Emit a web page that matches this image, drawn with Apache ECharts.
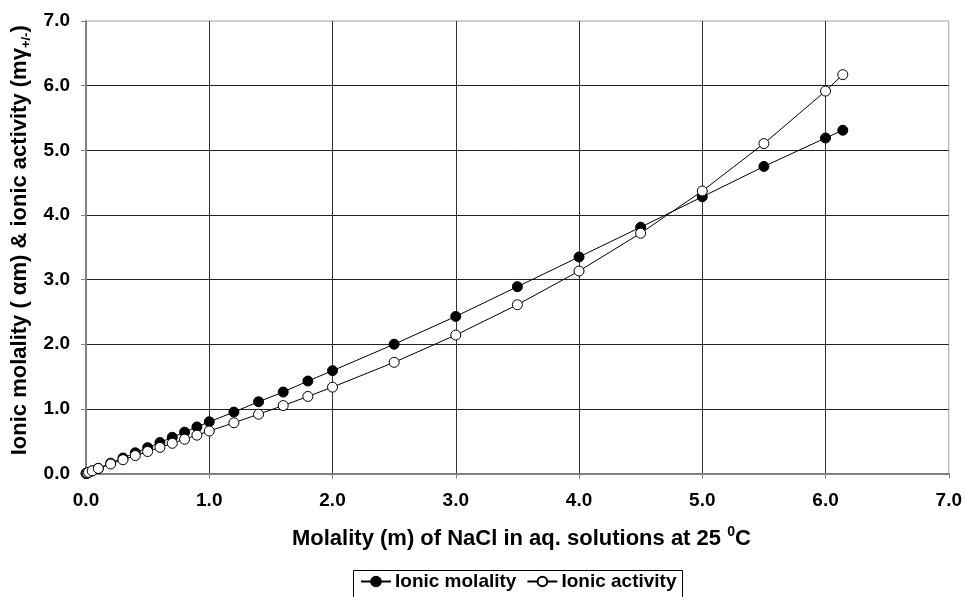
<!DOCTYPE html>
<html>
<head>
<meta charset="utf-8">
<script src="https://cdn.jsdelivr.net/npm/echarts@6/dist/echarts.min.js"></script>
<style>html,body{margin:0;padding:0;background:#fff}#c{width:965px;height:597px}</style>
</head>
<body>
<div id="c"></div>
<script>
const molality = [0.001, 0.005, 0.01, 0.02, 0.05, 0.1, 0.2, 0.3, 0.4, 0.5, 0.6, 0.7, 0.8, 0.9, 1.0, 1.2, 1.4, 1.6, 1.8, 2.0, 2.5, 3.0, 3.5, 4.0, 4.5, 5.0, 5.5, 6.0, 6.14];
const ionicMolality = [0.001, 0.004, 0.008, 0.016, 0.040, 0.080, 0.160, 0.240, 0.320, 0.400, 0.480, 0.560, 0.640, 0.720, 0.800, 0.950, 1.110, 1.260, 1.430, 1.590, 2.000, 2.430, 2.890, 3.350, 3.810, 4.280, 4.750, 5.190, 5.310];
const ionicActivity = [0.001, 0.005, 0.009, 0.018, 0.041, 0.078, 0.147, 0.213, 0.277, 0.340, 0.404, 0.467, 0.530, 0.593, 0.657, 0.785, 0.917, 1.051, 1.192, 1.336, 1.720, 2.142, 2.611, 3.132, 3.717, 4.370, 5.104, 5.916, 6.170];
const seriesNames = ['Ionic molality', 'Ionic activity'];
const xTicks = ['0.0', '1.0', '2.0', '3.0', '4.0', '5.0', '6.0', '7.0'];
const yTicks = ['0.0', '1.0', '2.0', '3.0', '4.0', '5.0', '6.0', '7.0'];

const FONT = '"Liberation Sans", Arial, sans-serif';
const chart = echarts.init(document.getElementById('c'), null, {renderer: 'canvas'});
const pairs = ys => molality.map((m, i) => [m, ys[i]]);

chart.setOption({
  animation: false,
  backgroundColor: '#fff',
  textStyle: {fontFamily: FONT},
  grid: {left: 86, right: 14, top: 21, bottom: 123.5, show: true, borderColor: '#a0a0a0', borderWidth: 1},
  graphic: [{
    type: 'rect', silent: true, z: 0,
    shape: {x: 353.5, y: 570.5, width: 329, height: 40},
    style: {fill: 'none', stroke: '#000', lineWidth: 1}
  }],
  legend: {
    top: 572, left: 353,
    itemWidth: 30, itemHeight: 12, itemGap: 10,
    padding: [0, 6, 0, 7],
    borderWidth: 0,
    textStyle: {fontFamily: FONT, fontWeight: 'bold', fontSize: 19, color: '#000', padding: [0, 0, 0, -1]},
    data: seriesNames
  },
  xAxis: {
    type: 'value', min: 0, max: 7, interval: 1,
    name: '{a|Molality (m) of NaCl in aq. solutions at 25 }{s|0}{a|C}',
    nameLocation: 'middle', nameGap: 52,
    nameTextStyle: {
      padding: [0, 0, 0, 8],
      rich: {
        a: {fontFamily: FONT, fontWeight: 'bold', fontSize: 22, color: '#000', lineHeight: 27, verticalAlign: 'middle'},
        s: {fontFamily: FONT, fontWeight: 'bold', fontSize: 14, color: '#000', lineHeight: 14, verticalAlign: 'top'}
      }
    },
    axisLine: {show: true, lineStyle: {color: '#808080', width: 2}},
    axisTick: {show: true, inside: false, length: 5, lineStyle: {color: '#808080'}},
    axisLabel: {margin: 18, fontFamily: FONT, fontWeight: 'bold', fontSize: 19, color: '#000',
      formatter: v => xTicks[Math.round(v)]},
    splitLine: {show: true, showMaxLine: false, lineStyle: {color: '#333', width: 1}}
  },
  yAxis: {
    type: 'value', min: 0, max: 7, interval: 1,
    name: '{a|Ionic molality ( αm) & ionic activity (mγ}{s|+/-}{a|)}',
    nameLocation: 'middle', nameGap: 52,
    nameTextStyle: {
      padding: [0, 0, 0, 14],
      rich: {
        a: {fontFamily: FONT, fontWeight: 'bold', fontSize: 22, color: '#000', lineHeight: 26, verticalAlign: 'middle'},
        s: {fontFamily: FONT, fontWeight: 'bold', fontSize: 13, color: '#000', lineHeight: 13, verticalAlign: 'bottom'}
      }
    },
    axisLine: {show: true, lineStyle: {color: '#808080', width: 2}},
    axisTick: {show: true, inside: false, length: 5, lineStyle: {color: '#808080'}},
    axisLabel: {margin: 16, fontFamily: FONT, fontWeight: 'bold', fontSize: 19, color: '#000',
      formatter: v => yTicks[Math.round(v)]},
    splitLine: {show: true, showMaxLine: false, lineStyle: {color: '#222', width: 1}}
  },
  series: [
    {
      name: seriesNames[0], type: 'line', data: pairs(ionicMolality),
      symbol: 'circle', symbolSize: 10, showAllSymbol: true,
      lineStyle: {color: '#000', width: 1},
      itemStyle: {color: '#000', borderColor: '#000', borderWidth: 1}
    },
    {
      name: seriesNames[1], type: 'line', data: pairs(ionicActivity),
      symbol: 'circle', symbolSize: 10, showAllSymbol: true,
      lineStyle: {color: '#000', width: 1},
      itemStyle: {color: '#fff', borderColor: '#000', borderWidth: 1}
    }
  ]
});
</script>
</body>
</html>
